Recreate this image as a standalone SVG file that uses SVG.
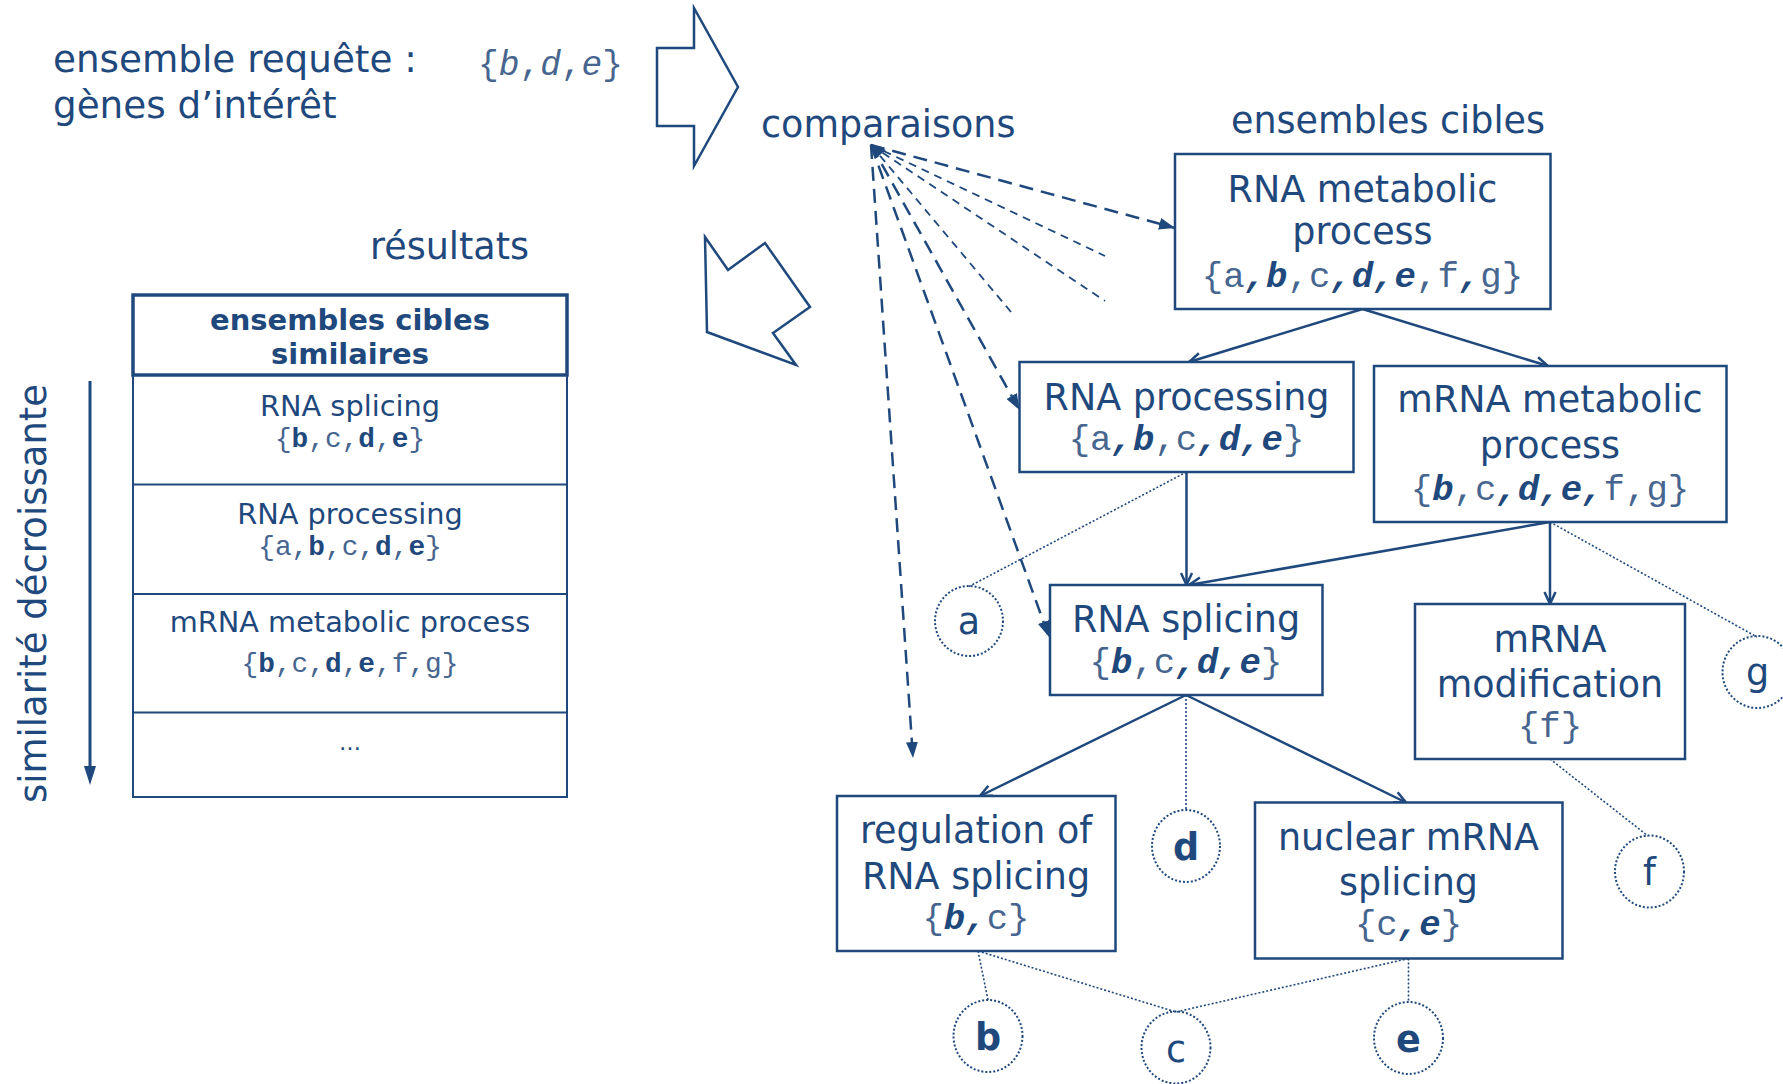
<svg xmlns="http://www.w3.org/2000/svg" width="1783" height="1084" viewBox="0 0 1783 1084">
<style>
.t{font-family:"DejaVu Sans","Liberation Sans",sans-serif;fill:#1F497D}
.big{font-size:36.5px}
.mid{text-anchor:middle}
.m{font-family:"Liberation Mono","Courier New",monospace;fill:#46658F}
.bi{font-weight:bold;font-style:italic;fill:#1F497D}
.b{font-weight:bold;fill:#1F497D}
.it{font-style:italic}
.bx{fill:#fff;stroke:#1F497D;stroke-width:2.5}
.shape{fill:#fff;stroke:#1F497D;stroke-width:2.5;stroke-linejoin:miter}
.circ{fill:none;stroke:#1F497D;stroke-width:2;stroke-dasharray:2 2}
.sol{fill:none;stroke:#1F497D;stroke-width:2.5}
.dot{fill:none;stroke:#1F497D;stroke-width:1.6;stroke-dasharray:2 2}
.dth{fill:none;stroke:#1F497D;stroke-width:2.5;stroke-dasharray:14 8}
.dtn{fill:none;stroke:#1F497D;stroke-width:1.8;stroke-dasharray:8 6}
</style>
<defs>
<marker id="fa" viewBox="0 0 16 12" refX="16" refY="6" markerWidth="16" markerHeight="12" orient="auto" markerUnits="userSpaceOnUse"><path d="M0,0 L16,6 L0,12 z" fill="#1F497D"/></marker>
<marker id="oa" viewBox="0 0 14 14" refX="13" refY="7" markerWidth="14" markerHeight="14" orient="auto" markerUnits="userSpaceOnUse"><path d="M1,1.5 L13,7 L1,12.5" fill="none" stroke="#1F497D" stroke-width="2.5"/></marker>
</defs>
<rect width="1783" height="1084" fill="#fff"/>

<g id="query">
<text class="t" x="53" y="72" font-size="37.3">ensemble requête :</text>
<text class="t" x="53" y="117.5" font-size="37.3">gènes d’intérêt</text>
<text class="m" x="478" y="75" font-size="34.5">{<tspan class="it">b</tspan>,<tspan class="it">d</tspan>,<tspan class="it">e</tspan>}</text>
</g>

<g id="arrow-right"><polygon class="shape" points="657,48 694,48 694,8 738,87 694,166 694,126 657,126"/></g>
<g id="arrow-back"><polygon class="shape" points="705,237 728,270 765,243 810,307 773,333 796,365 707,332"/></g>

<g id="labels">
<text class="t big" x="761" y="137">comparaisons</text>
<text class="t big" x="1231" y="133">ensembles cibles</text>
<text class="t big" x="370" y="259">résultats</text>
<text class="t mid" transform="translate(46,593.5) rotate(-90)" font-size="37">similarité décroissante</text>
</g>

<g id="similarity-arrow">
<line x1="90" y1="381" x2="90" y2="770" stroke="#1F497D" stroke-width="3"/>
<polygon points="90,785 84,766 96,766" fill="#1F497D"/>
</g>

<g id="table">
<rect x="133" y="375" width="434" height="422" fill="#fff" stroke="#1F497D" stroke-width="2"/>
<line x1="133" y1="484.5" x2="567" y2="484.5" stroke="#1F497D" stroke-width="2"/>
<line x1="133" y1="594" x2="567" y2="594" stroke="#1F497D" stroke-width="2"/>
<line x1="133" y1="712.5" x2="567" y2="712.5" stroke="#1F497D" stroke-width="2"/>
<rect x="133" y="295" width="434" height="80" fill="#fff" stroke="#1F497D" stroke-width="3.5"/>
<text class="t mid b" x="350" y="329.5" font-size="29">ensembles cibles</text>
<text class="t mid b" x="350" y="364" font-size="29">similaires</text>
<text class="t mid" x="350" y="416" font-size="28.8">RNA splicing</text>
<text class="m mid" x="350" y="447" font-size="27.8">{<tspan class="b">b</tspan>,c,<tspan class="b">d</tspan>,<tspan class="b">e</tspan>}</text>
<text class="t mid" x="350" y="524" font-size="28.8">RNA processing</text>
<text class="m mid" x="350" y="555" font-size="27.8">{a,<tspan class="b">b</tspan>,c,<tspan class="b">d</tspan>,<tspan class="b">e</tspan>}</text>
<text class="t mid" x="350" y="632" font-size="28.8">mRNA metabolic process</text>
<text class="m mid" x="350" y="672" font-size="27.8">{<tspan class="b">b</tspan>,c,<tspan class="b">d</tspan>,<tspan class="b">e</tspan>,f,g}</text>
<text class="t mid" x="350" y="750" font-size="22">…</text>
</g>

<g id="connectors">
<line class="dth" x1="871" y1="145" x2="1175" y2="228" marker-end="url(#fa)"/>
<line class="dtn" x1="871" y1="145" x2="1105" y2="256"/>
<line class="dtn" x1="871" y1="145" x2="1105" y2="301"/>
<line class="dtn" x1="871" y1="145" x2="1011" y2="312"/>
<line class="dth" x1="871" y1="145" x2="1019.5" y2="410" marker-end="url(#fa)"/>
<line class="dth" x1="871" y1="145" x2="1049" y2="637" marker-end="url(#fa)"/>
<line class="dth" x1="871" y1="145" x2="913" y2="758" marker-end="url(#fa)"/>
<polygon points="870,144 886,150 875,159" fill="#1F497D"/>

<line class="sol" x1="1362.5" y1="309" x2="1189" y2="362" marker-end="url(#oa)"/>
<line class="sol" x1="1362.5" y1="309" x2="1548" y2="366" marker-end="url(#oa)"/>
<line class="sol" x1="1186.5" y1="472" x2="1186.5" y2="585" marker-end="url(#oa)"/>
<line class="sol" x1="1550" y1="522" x2="1189" y2="585" marker-end="url(#oa)"/>
<line class="sol" x1="1550" y1="522" x2="1550" y2="604" marker-end="url(#oa)"/>
<line class="sol" x1="1186" y1="695" x2="980" y2="796" marker-end="url(#oa)"/>
<line class="sol" x1="1186" y1="695" x2="1406" y2="802.5" marker-end="url(#oa)"/>

<line class="dot" x1="1186.5" y1="472" x2="969" y2="586.5"/>
<line class="dot" x1="1550" y1="522" x2="1757" y2="637"/>
<line class="dot" x1="1550" y1="759" x2="1648" y2="836"/>
<line class="dot" x1="1186" y1="695" x2="1186" y2="810"/>
<line class="dot" x1="978" y1="951" x2="988" y2="1000"/>
<line class="dot" x1="978" y1="951" x2="1176" y2="1012"/>
<line class="dot" x1="1408.5" y1="958.5" x2="1176" y2="1012"/>
<line class="dot" x1="1408.5" y1="958.5" x2="1408.5" y2="1002"/>
</g>

<g id="n-rna-metabolic">
<rect class="bx" x="1175" y="154" width="375.5" height="155"/>
<text class="t big mid" x="1362.5" y="201.5">RNA metabolic</text>
<text class="t big mid" x="1362.5" y="244">process</text>
<text class="m mid" x="1362.5" y="287" font-size="35.7">{a<tspan class="bi">,b</tspan>,c<tspan class="bi">,d,e</tspan>,f<tspan class="bi">,</tspan>g}</text>
</g>
<g id="n-rna-processing">
<rect class="bx" x="1019.5" y="362" width="334" height="110"/>
<text class="t big mid" x="1186.5" y="410">RNA processing</text>
<text class="m mid" x="1186.5" y="450" font-size="35.7">{a<tspan class="bi">,b</tspan>,c<tspan class="bi">,d,e</tspan>}</text>
</g>
<g id="n-mrna-metabolic">
<rect class="bx" x="1374" y="366" width="352.5" height="156"/>
<text class="t big mid" x="1550" y="411.5">mRNA metabolic</text>
<text class="t big mid" x="1550" y="458">process</text>
<text class="m mid" x="1550" y="500" font-size="35.7">{<tspan class="bi">b</tspan>,c<tspan class="bi">,d,e,</tspan>f,g}</text>
</g>
<g id="n-rna-splicing">
<rect class="bx" x="1050" y="585" width="272.5" height="110"/>
<text class="t big mid" x="1186" y="631.5">RNA splicing</text>
<text class="m mid" x="1186" y="673" font-size="35.7">{<tspan class="bi">b</tspan>,c<tspan class="bi">,d,e</tspan>}</text>
</g>
<g id="n-mrna-modification">
<rect class="bx" x="1415" y="604" width="270" height="155"/>
<text class="t big mid" x="1550" y="651.5">mRNA</text>
<text class="t big mid" x="1550" y="696.5">modification</text>
<text class="m mid" x="1550" y="737" font-size="35.7">{f}</text>
</g>
<g id="n-regulation">
<rect class="bx" x="837" y="796" width="278.5" height="155"/>
<text class="t big mid" x="976" y="843">regulation of</text>
<text class="t big mid" x="976" y="888.5">RNA splicing</text>
<text class="m mid" x="976" y="928.5" font-size="35.7">{<tspan class="bi">b,</tspan>c}</text>
</g>
<g id="n-nuclear">
<rect class="bx" x="1255" y="802.5" width="307.5" height="156"/>
<text class="t big mid" x="1408.5" y="850">nuclear mRNA</text>
<text class="t big mid" x="1408.5" y="895">splicing</text>
<text class="m mid" x="1408.5" y="935" font-size="35.7">{c<tspan class="bi">,e</tspan>}</text>
</g>

<g id="gene-a"><ellipse class="circ" cx="969" cy="621" rx="34" ry="35"/><text class="t big mid" x="969" y="634">a</text></g>
<g id="gene-g"><ellipse class="circ" cx="1757.5" cy="672" rx="35" ry="36"/><text class="t big mid" x="1757.5" y="685">g</text></g>
<g id="gene-f"><ellipse class="circ" cx="1649.5" cy="871.5" rx="34.5" ry="36"/><text class="t big mid" x="1649.5" y="885">f</text></g>
<g id="gene-d"><ellipse class="circ" cx="1186" cy="846" rx="34" ry="36"/><text class="t big mid b" x="1186" y="860">d</text></g>
<g id="gene-b"><ellipse class="circ" cx="988" cy="1036" rx="34.5" ry="36"/><text class="t big mid b" x="988" y="1050">b</text></g>
<g id="gene-c"><ellipse class="circ" cx="1176" cy="1047.5" rx="34.5" ry="36"/><text class="t big mid" x="1176" y="1062">c</text></g>
<g id="gene-e"><ellipse class="circ" cx="1408.5" cy="1038" rx="34.5" ry="36"/><text class="t big mid b" x="1408.5" y="1052">e</text></g>
</svg>
